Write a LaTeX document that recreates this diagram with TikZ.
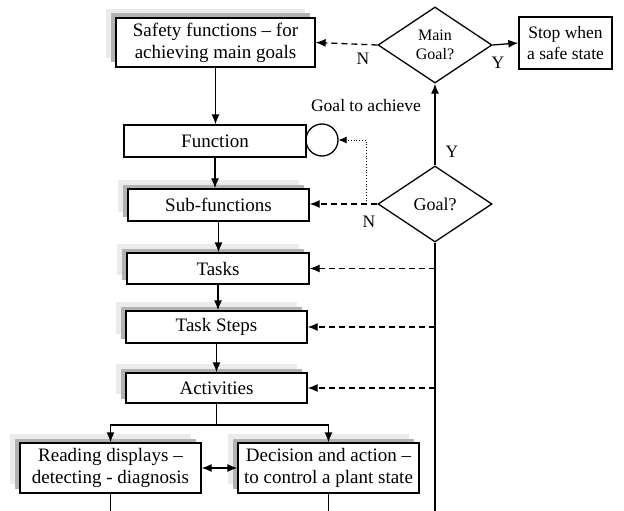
\documentclass[tikz,border=0pt]{standalone}
\usepackage{fontspec}
\setmainfont{Liberation Serif}
\usetikzlibrary{arrows.meta,shapes.geometric,shadows}
\begin{document}
\begin{tikzpicture}[x=1pt,y=-1pt,
  line width=1.3pt,
  arr/.style={-{Latex[length=10pt,width=8pt]}},
  darr/.style={{Latex[length=10pt,width=8pt]}-{Latex[length=10pt,width=8pt]}},
  dsh/.style={dash pattern=on 6pt off 4pt},
  box/.style={draw, fill=white, rectangle, inner sep=0pt, align=center,
    font=\fontsize{19}{22}\selectfont},
  shbox/.style={box,
    copy shadow={shadow xshift=-10pt, shadow yshift=9pt, fill=black!8, draw=none},
    copy shadow={shadow xshift=-5pt, shadow yshift=4.5pt, fill=black!30, draw=none}},
  dia/.style={draw, diamond, aspect=1.5, inner sep=0pt, align=center,
    minimum width=114pt, minimum height=76pt},
  lbl/.style={font=\fontsize{17.5}{20}\selectfont, inner sep=0pt}
]
\useasboundingbox (0,0) rectangle (624,511);

\node[shbox, minimum width=199pt, minimum height=49pt] (safety) at (215.5,42.5)
  {Safety functions – for\\achieving main goals};
\node[box, minimum width=182pt, minimum height=32pt] (func) at (215,141) {Function};
\node[shbox, minimum width=181pt, minimum height=32pt] (sub) at (218.5,205) {Sub-functions};
\node[shbox, minimum width=182pt, minimum height=31pt] (tasks) at (218,268.5) {Tasks};
\node[shbox, minimum width=181pt, minimum height=32pt] (steps) at (216.5,327) {Task Steps};
\node[shbox, minimum width=181pt, minimum height=30pt] (act) at (216.5,388) {Activities};
\node[shbox, minimum width=181pt, minimum height=50pt] (read) at (110.5,468)
  {Reading displays –\\detecting - diagnosis};
\node[shbox, minimum width=181pt, minimum height=50pt] (dec) at (328.5,468)
  {Decision and action –\\to control a plant state};
\node[box, minimum width=93pt, minimum height=52pt, font=\fontsize{17.5}{21}\selectfont] (stop) at (565.5,43)
  {Stop when\\a safe state};
\node[dia, font=\fontsize{16}{19}\selectfont] (maing) at (435,45) {Main\\Goal?};
\node[dia, font=\fontsize{18}{21}\selectfont] (goal) at (435,204) {Goal?};
\node[draw, circle, minimum size=32pt, inner sep=0pt] (circ) at (322,140) {};

\node[lbl] (gta) at (366,106) {Goal to achieve};
\node[lbl] (n1) at (363,59) {N};
\node[lbl] (y1) at (498,63) {Y};
\node[lbl] (y2) at (452,152) {Y};
\node[lbl] (n2) at (369,222) {N};

% main flow
\draw[arr] (safety.south) -- (safety.south |- func.north);
\draw[arr] (func.south) -- (func.south |- sub.north);
\draw[arr] (sub.south) -- (sub.south |- tasks.north);
\draw[arr] (tasks.south) -- (tasks.south |- steps.north);
\draw[arr] (steps.south) -- (steps.south |- act.north);

% split
\coordinate (sp) at (act.south |- 0,425);
\draw (act.south) -- (sp);
\draw[arr] (sp) -| (read.north);
\draw[arr] (sp) -| (dec.north);
\draw[darr] (read.east) -- (dec.west);

% bottom lines
\coordinate (b1) at (read.south |- 0,511);
\coordinate (b2) at (dec.south |- 0,511);
\coordinate (b3) at (goal.south |- 0,511);
\draw (read.south) -- (b1);
\draw (dec.south) -- (b2);
\draw (goal.south) -- (b3);

% decisions
\draw[arr] (goal.north) -- (maing.south);
\draw[arr] (maing.east) -- (stop.west);
\draw[arr, dsh] (maing.west) -- (safety.east);
\draw[arr, dsh] (goal.west) -- (goal.west -| sub.east);
\draw[arr, dsh] (goal.south |- tasks.east) -- (tasks.east);
\draw[arr, dsh] (goal.south |- steps.east) -- (steps.east);
\draw[arr, dsh] (goal.south |- act.east) -- (act.east);

% dotted to circle
\coordinate (dj) at (366,204);
\draw[-{Latex[length=8pt,width=7pt]}, line width=0.8pt, dotted] (dj) |- (circ.east);
\end{tikzpicture}
\end{document}
